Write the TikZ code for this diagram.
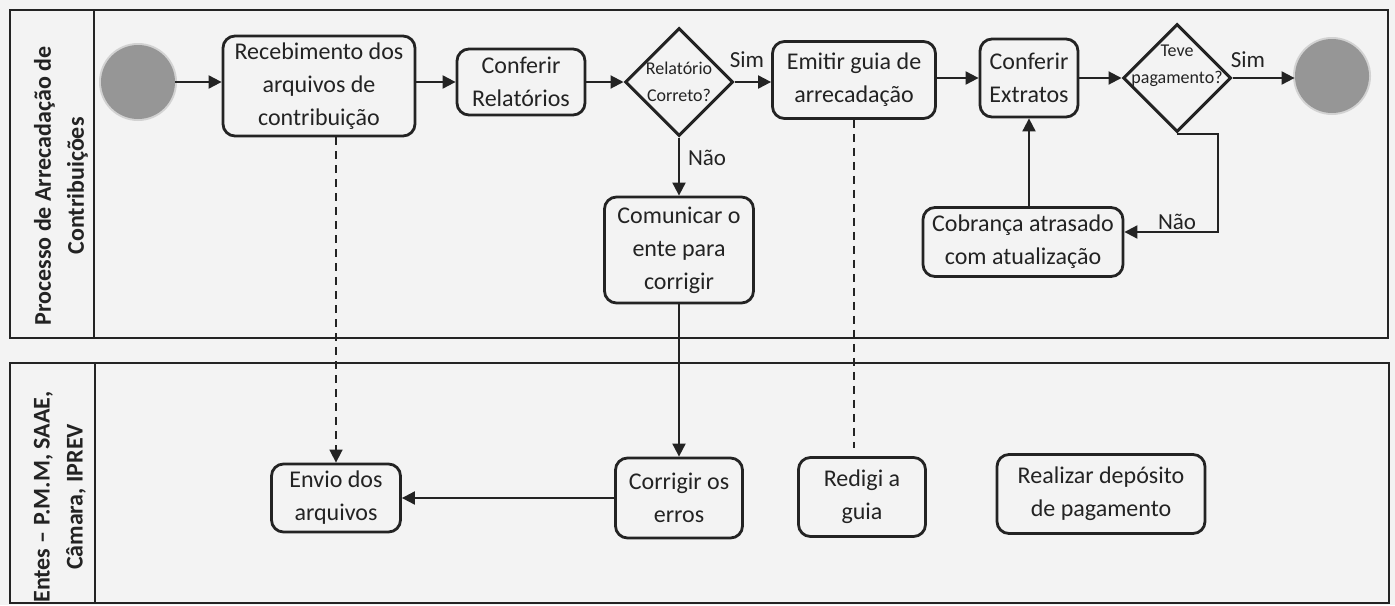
\documentclass[tikz,border=0pt]{standalone}
\usepackage{fontspec}
\setmainfont{Carlito}
\usetikzlibrary{shapes.geometric,arrows.meta,calc}
\definecolor{ink}{RGB}{35,35,35}
\definecolor{bg}{RGB}{243,243,243}
\definecolor{ball}{RGB}{150,150,150}
\begin{document}
\begin{tikzpicture}[x=0.5pt,y=-0.5pt,
  task/.style={draw=ink, line width=1.4pt, rounded corners=6pt, align=center,
    font=\fontsize{12}{16.5}\selectfont, inner sep=0pt, text=ink},
  gate/.style={draw=ink, line width=1.5pt, diamond, aspect=1, inner sep=0pt,
    minimum width=54pt, minimum height=54pt},
  small/.style={align=center, font=\fontsize{9}{13.5}\selectfont, text=ink, inner sep=0pt},
  lbl/.style={font=\fontsize{11.5}{13}\selectfont, text=ink, inner sep=0pt},
  lane/.style={align=center, font=\bfseries\fontsize{12}{16.5}\selectfont, text=ink, inner sep=0pt},
  pool/.style={draw=ink, line width=1.3pt},
  ev/.style={circle, fill=ball, draw=none, minimum size=37pt, inner sep=0pt},
  arr/.style={draw=ink, line width=1pt, -{Triangle[length=6.5pt,width=6.5pt]}},
  dline/.style={draw=ink, line width=0.8pt, dash pattern=on 4pt off 3pt}
]
\fill[bg] (0,0) rectangle (1395,605);
\useasboundingbox (0,0) rectangle (1395,605);

% pools
\draw[pool] (10,10) rectangle (1388,338);
\draw[pool] (94,10) -- (94,338);
\draw[pool] (10,363) rectangle (1389,603);
\draw[pool] (95,363) -- (95,603);

% lane labels
\node[lane, rotate=90] (lane1) at (61,186) {Processo de Arrecadação de\\Contribuições};
\begin{scope}
  \clip (10,363) rectangle (95,603);
  \node[lane, rotate=90] (lane2) at (60,497) {Entes – P.M.M, SAAE,\\Câmara, IPREV};
\end{scope}

% events
\node[ev, minimum size=39pt, opacity=0.35] (starthalo) at (138,82) {};
\node[ev] (start) at (138,82) {};
\node[ev, minimum size=39pt, opacity=0.35] (endhalo) at (1332,76) {};
\node[ev] (end) at (1332,76) {};

% top lane
\node[task, minimum width=96pt, minimum height=50pt] (rec) at (319,86) {Recebimento dos\\arquivos de\\contribuição};
\node[task, minimum width=64pt, minimum height=33pt] (conf) at (521,82) {Conferir\\Relatórios};
\node[gate] (d1) at (679,82) {};
\node[small] (d1t) at (679,82) {Relatório\\Correto?};
\node[task, minimum width=81.5pt, minimum height=38.5pt] (emit) at (854,80) {Emitir guia de\\arrecadação};
\node[task, minimum width=49pt, minimum height=39pt] (ext) at (1029,78) {Conferir\\Extratos};
\node[gate] (d2) at (1177,78) {};
\node[small] (d2t) at (1177,66) {Teve\\pagamento?};
\node[task, minimum width=74.5pt, minimum height=53pt] (com) at (679,250) {Comunicar o\\ente para\\corrigir};
\node[task, minimum width=100pt, minimum height=34.5pt] (cob) at (1023,242) {Cobrança atrasado\\com atualização};

% bottom lane
\node[task, minimum width=64.5pt, minimum height=34pt] (env) at (336,498) {Envio dos\\arquivos};
\node[task, minimum width=63.5pt, minimum height=40pt] (corr) at (679,498) {Corrigir os\\erros};
\node[task, minimum width=63.5pt, minimum height=39.5pt] (red) at (862,497) {Redigi a\\guia};
\node[task, minimum width=104pt, minimum height=39.5pt] (real) at (1101,494) {Realizar depósito\\de pagamento};

% connectors
\draw[arr] (start) -- (start -| rec.west);
\draw[arr] (rec.east |- conf) -- (conf.west);
\draw[arr] (conf.east) -- (d1.west);
\draw[arr] (d1.east) -- (d1.east -| emit.west);
\draw[arr] (emit.east |- ext) -- (ext.west);
\draw[arr] (ext.east) -- (d2.west);
\draw[arr] (d2.east) -- (d2.east -| end.west);
\draw[arr] (d1.south) -- (com.north);
\draw[arr] (com.south) -- (corr.north);
\draw[arr] (corr.west) -- (env.east);
\draw[arr] (d2.south) -- ++(41,0) |- ([yshift=5pt]cob.east);
\draw[arr] (cob.north -| ext) -- (ext.south);
\draw[dline, -{Triangle[length=6.5pt,width=6.5pt]}] (rec.south -| env.north) -- (env.north);
\draw[dline] (emit.south) -- ([yshift=4pt]emit.south |- red.north);

% flow labels
\node[lbl] (sim1) at (747,60) {Sim};
\node[lbl] (sim2) at (1248,60) {Sim};
\node[lbl] (nao1) at (707,158) {Não};
\node[lbl] (nao2) at (1177,222) {Não};
\end{tikzpicture}
\end{document}
